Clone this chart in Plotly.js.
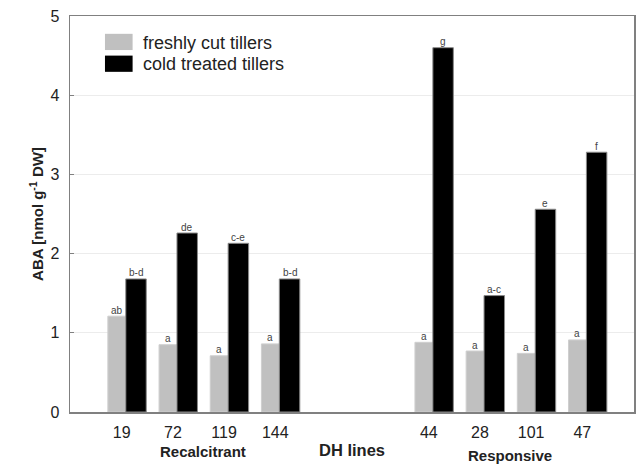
<!DOCTYPE html>
<html>
<head>
<meta charset="utf-8">
<script src="https://cdn.plot.ly/plotly-3.0.1.min.js"></script>
<style>html,body{margin:0;padding:0;background:#fff;}#chart{width:636px;height:465px;}</style>
</head>
<body>
<div id="chart"></div>
<script>
// ---- data ----
const lines = ['19', '72', '119', '144', '44', '28', '101', '47'];
const groups = ['Recalcitrant', 'Recalcitrant', 'Recalcitrant', 'Recalcitrant', 'Responsive', 'Responsive', 'Responsive', 'Responsive'];
const freshABA = [1.21, 0.85, 0.71, 0.86, 0.88, 0.77, 0.74, 0.91];
const coldABA = [1.68, 2.26, 2.13, 1.68, 4.60, 1.47, 2.56, 3.28];
const freshLetters = ['ab', 'a', 'a', 'a', 'a', 'a', 'a', 'a'];
const coldLetters = ['b-d', 'de', 'c-e', 'b-d', 'g', 'a-c', 'e', 'f'];
const seriesNames = ['freshly cut tillers', 'cold treated tillers'];
const yTicks = [0, 1, 2, 3, 4, 5];

// positions on the axis: groups separated by a gap of two slots
const GAP = 2;
const xPos = lines.map((l, i) => i + (groups[i] === groups[0] ? 0 : GAP));

const font = 'Liberation Sans, Arial, Helvetica, sans-serif';
const FRESH_W = 0.35, COLD_W = 0.40;

const traces = [
  {
    type: 'bar', name: seriesNames[0], x: xPos, y: freshABA,
    width: FRESH_W, offset: -FRESH_W,
    marker: {color: '#c0c0c0', line: {color: '#cfcfcf', width: 1}},
    showlegend: false
  },
  {
    type: 'bar', name: seriesNames[1], x: xPos, y: coldABA,
    width: COLD_W, offset: 0,
    marker: {color: '#000000', line: {color: '#8a8a8a', width: 1}},
    showlegend: false
  }
];

// significance letters sitting on top of each bar
const letterAnn = [];
xPos.forEach((x, i) => {
  letterAnn.push({text: freshLetters[i], xref: 'x', yref: 'y', x: x - FRESH_W / 2, y: freshABA[i],
    yanchor: 'bottom', yshift: -1.5, showarrow: false, font: {family: font, size: 10, color: '#444'}});
  letterAnn.push({text: coldLetters[i], xref: 'x', yref: 'y', x: x + COLD_W / 2, y: coldABA[i],
    yanchor: 'bottom', yshift: -1.5, showarrow: false, font: {family: font, size: 10, color: '#444'}});
});

// group labels centred under each group
const groupNames = [...new Set(groups)];
const groupAnn = groupNames.map((g, k) => {
  const xs = xPos.filter((x, i) => groups[i] === g);
  return {
    text: '<b>' + g + '</b>', xref: 'x', yref: 'paper',
    x: (Math.min(...xs) + Math.max(...xs)) / 2,
    y: k === 0 ? -0.100 : -0.111, yanchor: 'middle', showarrow: false,
    font: {family: font, size: 15, color: '#222'}
  };
});

const legendAnn = seriesNames.map((n, k) => ({
  text: n, xref: 'paper', yref: 'paper', x: 0.1254, y: k === 0 ? 0.931 : 0.878,
  xanchor: 'left', yanchor: 'middle', showarrow: false,
  font: {family: font, size: 18, color: '#222'}
}));

const legendShapes = [
  {type: 'rect', xref: 'paper', yref: 'paper', x0: 0.062, x1: 0.111, y0: 0.914, y1: 0.955,
   fillcolor: '#c0c0c0', line: {width: 0}},
  {type: 'rect', xref: 'paper', yref: 'paper', x0: 0.062, x1: 0.111, y0: 0.859, y1: 0.900,
   fillcolor: '#000000', line: {width: 0}}
];

const layout = {
  width: 636, height: 465,
  margin: {l: 70, r: 2, t: 16, b: 53},
  paper_bgcolor: '#fff', plot_bgcolor: '#fff',
  font: {family: font, color: '#222'},
  bargap: 0,
  xaxis: {
    range: [-1.09, 9.93],
    tickvals: xPos.map(x => x - 0.08), ticktext: lines,
    showgrid: false, zeroline: false,
    showline: true, linecolor: '#808080', linewidth: 1.5, mirror: true,
    ticks: '', ticklabelstandoff: 5,
    tickfont: {family: font, size: 16, color: '#222'},
    title: {text: '<b>DH lines</b>', font: {family: font, size: 16.5, color: '#222'}, standoff: 4},
    automargin: false, fixedrange: true
  },
  yaxis: {
    range: [0, 5], tickvals: yTicks,
    showgrid: true, gridcolor: '#ececec', gridwidth: 1,
    zeroline: false,
    showline: true, linecolor: '#808080', linewidth: 1.5, mirror: true,
    ticks: 'inside', ticklen: 4, tickcolor: '#808080',
    ticklabelstandoff: 6,
    tickfont: {family: font, size: 16, color: '#222'},
    title: {text: '<b>ABA [nmol g<sup>-1</sup> DW]</b>', font: {family: font, size: 15, color: '#222'}, standoff: 3},
    automargin: false, fixedrange: true
  },
  annotations: letterAnn.concat(groupAnn, legendAnn),
  shapes: legendShapes,
  showlegend: false
};

Plotly.newPlot('chart', traces, layout, {displayModeBar: false, staticPlot: true});
</script>
</body>
</html>
